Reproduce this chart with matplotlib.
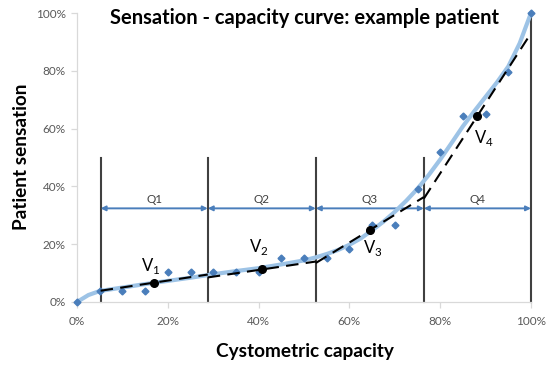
import matplotlib
matplotlib.use("Agg")
import matplotlib.pyplot as plt
from matplotlib.ticker import FuncFormatter

plt.rcParams['font.family'] = ['Lato', 'DejaVu Sans']
plt.rcParams['mathtext.fontset'] = 'custom'
plt.rcParams['mathtext.rm'] = 'Lato'

# measured data (diamonds)
capacity = [0, 5, 10, 15, 20, 25, 30, 35, 40, 45, 50, 55, 60, 65, 70, 75, 80, 85, 90, 95, 100]
sensation = [0, 3.8, 3.8, 3.8, 10.4, 10.4, 10.4, 10.4, 10.4, 15.2, 15.2, 15.2, 18.3, 26.6, 26.6,
             39.0, 52.0, 64.4, 65.0, 79.6, 100]

# smooth fitted curve
curve_x = [0, 2.5, 5, 10, 15, 20, 25, 30, 35, 40, 45, 50, 52.5, 55, 57.5, 60, 62.5, 65, 67.5,
           70, 72.5, 75, 77.5, 80, 82.5, 85, 87.5, 90, 92.5, 95, 97.5, 100]
curve_y = [0, 2.4, 3.8, 5.0, 6.2, 7.3, 8.4, 9.6, 10.7, 11.7, 13.0, 14.4, 15.4, 16.6, 18.0, 19.8,
           22.0, 24.8, 27.8, 31.2, 35.0, 39.2, 44.0, 49.3, 55.0, 60.8, 66.0, 71.0, 76.0, 81.5,
           89.5, 100]

# quartile boundaries
bounds = [5.2, 28.8, 52.6, 76.4, 100]
bound_tops = [50, 50, 50, 50, 100]
quart_labels = ['Q1', 'Q2', 'Q3', 'Q4']

# piecewise linear fits per quartile (start, end values)
seg_start = [3.9, 8.5, 13.5, 35.8]
seg_end = [9.5, 14.0, 36.3, 93.0]

# V points (midpoints of each quartile)
v_x = [17.0, 40.7, 64.5, 88.2]
v_y = [6.7, 11.3, 24.9, 64.4]
v_labels = ['1', '2', '3', '4']
v_label_x = [14.1, 37.9, 63.0, 87.4]
v_label_y = [10.7, 17.3, 17.0, 55.0]

fig = plt.figure(figsize=(5.46, 3.66), dpi=100)
ax = fig.add_axes([77/546, 64/366, 454/546, 289/366])
ax.set_xlim(0, 100)
ax.set_ylim(0, 100)

blue = '#4a7ebb'
light = '#9dc3e6'

# vertical quartile lines
for b, t in zip(bounds, bound_tops):
    ax.plot([b, b], [0, t], color='#404040', lw=1.5, zorder=2, clip_on=False)

# arrows and Q labels
for i, q in enumerate(quart_labels):
    ax.annotate('', xy=(bounds[i], 32.4), xytext=(bounds[i+1], 32.4),
                arrowprops=dict(arrowstyle='<|-|>', color=blue, lw=1.4,
                                mutation_scale=7, shrinkA=0, shrinkB=0), zorder=3)
    ax.text((bounds[i] + bounds[i+1]) / 2, 35.4, q, ha='center', va='center',
            fontsize=8.5, color='#404040')

# fitted curve
ax.plot(curve_x, curve_y, color=light, lw=3, solid_capstyle='round',
        solid_joinstyle='round', zorder=3, clip_on=False)

# data diamonds
ax.plot(capacity, sensation, linestyle='none', marker='D', markersize=3.5,
        color=blue, zorder=4, clip_on=False)

# dashed quartile fits
for i in range(4):
    ax.plot([bounds[i], bounds[i+1]], [seg_start[i], seg_end[i]], color='black',
            lw=1.5, dashes=(6, 3.5), zorder=5)

# V points
ax.plot(v_x, v_y, linestyle='none', marker='o', markersize=5.5, color='black', zorder=6)
for lx, ly, s in zip(v_label_x, v_label_y, v_labels):
    ax.text(lx, ly, 'V$_{\\mathregular{' + s + '}}$', fontsize=12, color='black',
            ha='left', va='baseline')

# axes styling
for side in ['top', 'right']:
    ax.spines[side].set_visible(False)
for side in ['left', 'bottom']:
    ax.spines[side].set_color('#d9d9d9')
    ax.spines[side].set_linewidth(0.9)
ax.set_xticks([0, 20, 40, 60, 80, 100])
ax.set_yticks([0, 20, 40, 60, 80, 100])
fmt = FuncFormatter(lambda v, p: f'{int(round(v))}%')
ax.xaxis.set_major_formatter(fmt)
ax.yaxis.set_major_formatter(fmt)
ax.tick_params(axis='both', colors='#d9d9d9', labelcolor='#595959', labelsize=8.5,
               length=4, width=0.9)
ax.tick_params(axis='x', pad=6)
ax.tick_params(axis='y', pad=4)

ax.text(0.502, 0.983, 'Sensation - capacity curve: example patient', transform=ax.transAxes,
        ha='center', va='center', fontsize=14.5, fontweight='bold', color='black')
fig.text(305/546, 1 - 352/366, 'Cystometric capacity', ha='center', va='center',
         fontsize=13.7, fontweight='bold')
fig.text(22/546, 1 - 157/366, 'Patient sensation', ha='center', va='center',
         rotation=90, fontsize=13.7, fontweight='bold')

fig.savefig('out.png', dpi=100)
